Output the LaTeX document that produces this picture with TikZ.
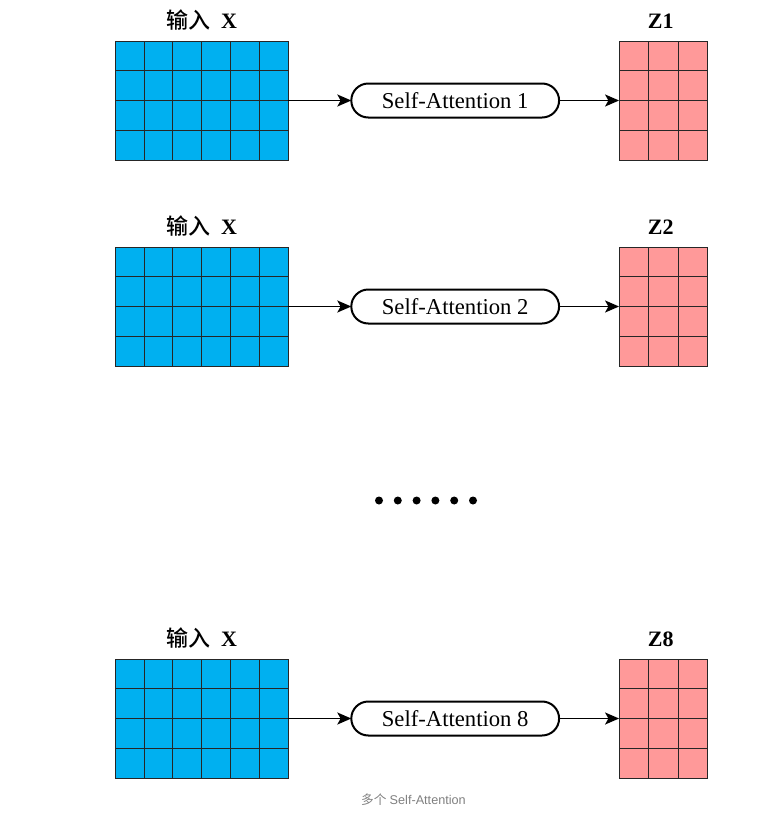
\documentclass[tikz,border=0pt]{standalone}
\usepackage{fontspec}
\setmainfont{Liberation Serif}
\newfontfamily\cjk{Noto Sans CJK SC}
\newfontfamily\cjkmed{Noto Sans CJK SC Medium}
\newfontfamily\capsans{Liberation Sans}
\usepackage{tikz}
\usetikzlibrary{
  arrows.meta,
  shapes.misc,
  matrix,
  positioning
}
\definecolor{xblue}{RGB}{0,176,240}
\definecolor{zpink}{RGB}{255,153,153}
\definecolor{capgray}{RGB}{128,128,128}

\begin{document}
\begin{tikzpicture}[
      x=0.75pt, y=-0.75pt,
      xcell/.style={
         rectangle,
         draw=black!85,
         line width=0.6pt,
         fill=xblue,
         inner sep=0pt,
         outer sep=0pt,
         minimum width=21.6pt,
         minimum height=22.3pt
      },
      zcell/.style={
         xcell,
         fill=zpink,
         minimum width=22pt
      },
      xgrid/.style={
         matrix of nodes,
         nodes in empty cells,
         nodes={xcell},
         column sep=-0.6pt, row sep=-0.6pt,
         inner sep=0pt, outer sep=0pt
      },
      zgrid/.style={
         xgrid,
         nodes={zcell}
      },
      attention/.style={
         rounded rectangle,
         minimum width=162.5pt,
         minimum height=25.5pt,
         line width=1.5pt,
         draw=black,
         fill=white,
         outer sep=0pt,
         font=\fontsize{17}{20}\selectfont
      },
      gridlabel/.style={
         inner sep=0pt,
         font=\fontsize{16.5}{20}\selectfont\bfseries
         %text height=1.5ex,
      },
      dot/.style={circle, fill=black, inner sep=0pt, outer sep=0pt, minimum size=6pt},
      flow/.style={-{Stealth[length=10.5pt,width=9pt,inset=2.5pt]}, line width=1.3pt, draw=black}
    ]
    \useasboundingbox (0,0) rectangle (759,814);

    % head 1
    \matrix (x1) [xgrid] at (201.5,100.5) {
       &&&&& \\
       &&&&& \\
       &&&&& \\
       &&&&& \\
    };
    \node (sa1) [attention, right=47.25pt of x1] {Self-Attention 1};
    \matrix (z1) [zgrid, right=45pt of sa1] {
       && \\
       && \\
       && \\
       && \\
    };
    \node (lx1) [gridlabel, above=9pt of x1, anchor=base] {{\cjkmed\mdseries 输入}\hspace{0.5em}X};
    \node (lz1) [gridlabel, above=9pt of z1, anchor=base, xshift=-2pt] {Z1};
    \draw [flow] (x1.east) -- (sa1.west);
    \draw [flow] (sa1.east) -- (z1.west);

    % head 2
    \matrix (x2) [xgrid] at (201.5,306.5) {
       &&&&& \\
       &&&&& \\
       &&&&& \\
       &&&&& \\
    };
    \node (sa2) [attention, right=47.25pt of x2] {Self-Attention 2};
    \matrix (z2) [zgrid, right=45pt of sa2] {
       && \\
       && \\
       && \\
       && \\
    };
    \node (lx2) [gridlabel, above=9pt of x2, anchor=base] {{\cjkmed\mdseries 输入}\hspace{0.5em}X};
    \node (lz2) [gridlabel, above=9pt of z2, anchor=base, xshift=-2pt] {Z2};
    \draw [flow] (x2.east) -- (sa2.west);
    \draw [flow] (sa2.east) -- (z2.west);

    % dots
    \node (d1) [dot] at (379,500.5) {};
    \node (d2) [dot, right=8.1pt of d1] {};
    \node (d3) [dot, right=8.1pt of d2] {};
    \node (d4) [dot, right=8.1pt of d3] {};
    \node (d5) [dot, right=8.1pt of d4] {};
    \node (d6) [dot, right=8.1pt of d5] {};

    % head 8
    \matrix (x8) [xgrid] at (201.5,718.5) {
       &&&&& \\
       &&&&& \\
       &&&&& \\
       &&&&& \\
    };
    \node (sa8) [attention, right=47.25pt of x8] {Self-Attention 8};
    \matrix (z8) [zgrid, right=45pt of sa8] {
       && \\
       && \\
       && \\
       && \\
    };
    \node (lx8) [gridlabel, above=9pt of x8, anchor=base] {{\cjkmed\mdseries 输入}\hspace{0.5em}X};
    \node (lz8) [gridlabel, above=9pt of z8, anchor=base, xshift=-2pt] {Z8};
    \draw [flow] (x8.east) -- (sa8.west);
    \draw [flow] (sa8.east) -- (z8.west);

    \node (cap) [text=capgray, font=\fontsize{9.5}{11}\selectfont] at (413.5,800)
       {{\cjk 多个} {\capsans Self-Attention}};
\end{tikzpicture}
\end{document}
